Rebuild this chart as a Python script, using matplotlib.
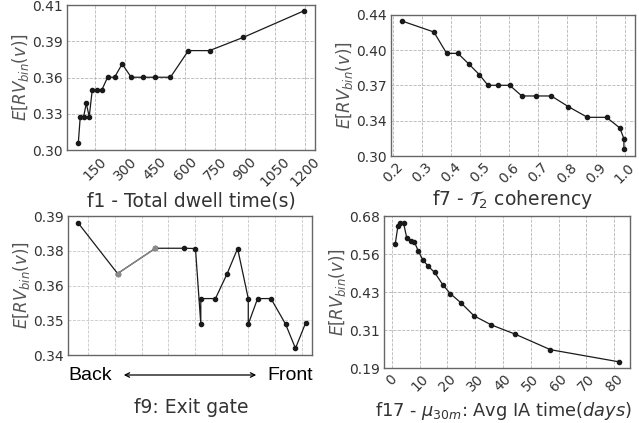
import numpy as np
import matplotlib
matplotlib.use("Agg")
import matplotlib.pyplot as plt

# f1 - total dwell time
f1_x = [65, 75, 92, 105, 120, 135, 158, 183, 212, 247, 285, 330, 387, 450, 527, 617, 723, 893, 1195]
f1_y = [0.305, 0.3253, 0.3253, 0.3354, 0.3253, 0.3455, 0.3455, 0.3455, 0.3552, 0.3552,
        0.3653, 0.3552, 0.3552, 0.3552, 0.3552, 0.3754, 0.3754, 0.3855, 0.4055]
f1_yticklabels = ["0.30", "0.33", "0.36", "0.39", "0.41"]
f1_xticks = [150, 300, 450, 600, 750, 900, 1050, 1200]

# f7 - T2 coherency
f7_x = [0.23, 0.34, 0.384, 0.423, 0.461, 0.497, 0.527, 0.561, 0.602, 0.644, 0.693, 0.746,
        0.805, 0.871, 0.937, 0.983, 0.997, 0.997]
f7_y = [0.434, 0.4231, 0.4019, 0.4019, 0.3913, 0.3808, 0.3702, 0.3702, 0.3702, 0.3596,
        0.3596, 0.3596, 0.349, 0.3384, 0.3384, 0.3278, 0.3172, 0.3066]
f7_yticklabels = ["0.30", "0.34", "0.37", "0.40", "0.44"]
f7_xticks = [0.2, 0.3, 0.4, 0.5, 0.6, 0.7, 0.8, 0.9, 1.0]

# f9 - exit gate (position back -> front)
f9_x = [0.62, 2.10, 3.52, 4.60, 5.02, 5.22, 5.22, 5.77, 6.21, 6.60, 7.00, 7.00, 7.35, 7.85,
        8.40, 8.77, 9.15]
f9_y = [0.3875, 0.3693, 0.3784, 0.3784, 0.3783, 0.3511, 0.3603, 0.3603, 0.3693, 0.3783,
        0.3603, 0.3511, 0.3603, 0.3603, 0.3511, 0.3424, 0.3515]
f9_yticklabels = ["0.34", "0.35", "0.36", "0.38", "0.39"]

# f17 - avg IA time
f17_x = [1.2, 2.2, 3.0, 4.2, 5.4, 6.9, 8.1, 9.5, 11.2, 13.0, 15.4, 18.3, 21.0, 25.0, 29.6,
         35.8, 44.4, 57.1, 81.7]
f17_y = [0.589, 0.648, 0.658, 0.658, 0.608, 0.600, 0.597, 0.567, 0.538, 0.519, 0.498, 0.459,
         0.430, 0.399, 0.358, 0.329, 0.299, 0.249, 0.210]
f17_yticklabels = ["0.19", "0.31", "0.43", "0.56", "0.68"]
f17_xticks = [0, 10, 20, 30, 40, 50, 60, 70, 80]

TXT = "#333333"
YLAB = r"$E[RV_{bin}(v)]$"

plt.rcParams["font.family"] = ["DejaVu Sans"]
plt.rcParams["mathtext.fontset"] = "dejavusans"

fig = plt.figure(figsize=(6.39, 4.23), dpi=100)
W, H = 639.0, 423.0


def make_ax(left, right, top, bottom):
    return fig.add_axes([left / W, 1 - bottom / H, (right - left) / W, (bottom - top) / H])


def style(ax, gridcol="#b5b5b5"):
    ax.set_facecolor("white")
    for s in ax.spines.values():
        s.set_color("#666666")
        s.set_linewidth(1.0)
    ax.grid(True, linestyle="--", linewidth=0.6, color=gridcol)
    ax.set_axisbelow(True)
    ax.tick_params(length=0, labelsize=10, labelcolor=TXT, pad=3)


def yaxis(ax, lo, hi, labels):
    ax.set_ylim(lo, hi)
    ax.set_yticks(np.linspace(lo, hi, 5))
    ax.set_yticklabels(labels)
    ax.set_ylabel(YLAB, fontsize=12, color="#555555", labelpad=1)


line_kw = dict(color="#1a1a1a", lw=0.9, marker="o", ms=3)

# panel f1
ax1 = make_ax(67, 315, 5, 150)
style(ax1)
ax1.plot(f1_x, f1_y, **line_kw)
yaxis(ax1, 0.30, 0.41, f1_yticklabels)
ax1.set_xticks(f1_xticks)
ax1.tick_params(axis="x", labelrotation=45)
ax1.set_xlabel("f1 - Total dwell time(s)", fontsize=13.5, color=TXT, labelpad=2)

# panel f7
ax2 = make_ax(391, 635, 15, 156)
style(ax2)
ax2.plot(f7_x, f7_y, **line_kw)
yaxis(ax2, 0.30, 0.44, f7_yticklabels)
ax2.set_xticks(f7_xticks)
ax2.tick_params(axis="x", labelrotation=45)
ax2.set_xlabel(r"f7 - $\mathcal{T}_2$ coherency", fontsize=13.5, color=TXT, labelpad=2)

# panel f9
ax3 = make_ax(68, 312, 216, 355)
style(ax3, gridcol="#c8c8c8")
ax3.plot(f9_x, f9_y, **line_kw)
ax3.plot(f9_x[1:3], f9_y[1:3], color="#8a8a8a", lw=0.9, marker="o", ms=3, zorder=3)
ax3.set_xlim(0.24, 9.39)
ax3.set_xticks(range(1, 10))
ax3.set_xticklabels([])
yaxis(ax3, 0.34, 0.39, f9_yticklabels)
fig.text(68 / W, 1 - 375 / H, "Back", family="Liberation Sans", fontsize=14,
         color="black", ha="left", va="center")
fig.text(313 / W, 1 - 375 / H, "Front", family="Liberation Sans", fontsize=14,
         color="black", ha="right", va="center")
fig.add_artist(matplotlib.patches.FancyArrowPatch(
    (121 / W, 1 - 375 / H), (259 / W, 1 - 375 / H), transform=fig.transFigure,
    arrowstyle="<->", mutation_scale=8, lw=0.9, color="black"))
fig.text(191 / W, 1 - 407 / H, "f9: Exit gate", fontsize=13.5, color=TXT,
         ha="center", va="center")

# panel f17
ax4 = make_ax(384, 630, 216, 368)
style(ax4)
ax4.plot(f17_x, f17_y, **line_kw)
yaxis(ax4, 0.19, 0.68, f17_yticklabels)
ax4.set_xticks(f17_xticks)
ax4.tick_params(axis="x", labelrotation=45)
ax4.set_xlabel(r"f17 - $\mu_{30m}$: Avg IA time($days$)", fontsize=12.8, color=TXT)
ax4.xaxis.set_label_coords(0.485, -0.21)

fig.savefig("out.png", dpi=100, facecolor="white")
